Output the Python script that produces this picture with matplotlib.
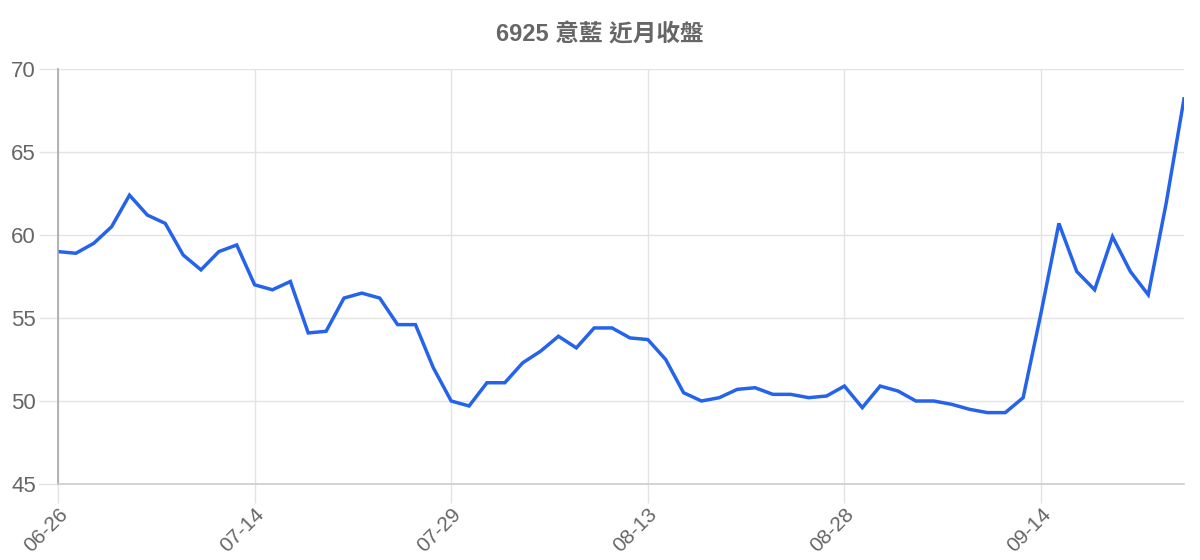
import matplotlib
matplotlib.use('Agg')
import matplotlib.pyplot as plt
import numpy as np

plt.rcParams['font.family'] = ['Liberation Sans', 'Noto Sans CJK TC', 'DejaVu Sans']

title = '6925 意藍 近月收盤'
tick_labels = ['06-26', '07-14', '07-29', '08-13', '08-28', '09-14']
tick_every = 11
closes = [59.0, 58.9, 59.5, 60.5, 62.4, 61.2, 60.7, 58.8, 57.9, 59.0,
          59.4, 57.0, 56.7, 57.2, 54.1, 54.2, 56.2, 56.5, 56.2, 54.6,
          54.6, 52.0, 50.0, 49.7, 51.1, 51.1, 52.3, 53.0, 53.9, 53.2,
          54.4, 54.4, 53.8, 53.7, 52.5, 50.5, 50.0, 50.2, 50.7, 50.8,
          50.4, 50.4, 50.2, 50.3, 50.9, 49.6, 50.9, 50.6, 50.0, 50.0,
          49.8, 49.5, 49.3, 49.3, 50.2, 55.3, 60.7, 57.8, 56.7, 59.9,
          57.8, 56.4, 61.9, 68.2]

fig = plt.figure(figsize=(12, 5.6), dpi=100)
ax = fig.add_axes([58/1200, 1 - 484/560, (1184-58)/1200, (484-69)/560])

x = np.arange(len(closes))
ax.plot(x, closes, color='#2563eb', linewidth=2.5, solid_joinstyle='miter')

ax.set_xlim(0, len(closes) - 1)
ax.set_ylim(45, 70)
ax.set_yticks(np.arange(45, 71, 5))
ax.set_xticks(x[::tick_every])
ax.set_xticklabels(tick_labels, rotation=45, ha='right', va='top',
                   rotation_mode='anchor')

ax.grid(True, color='#e3e3e3', linewidth=1)
ax.set_axisbelow(True)
for s in ['top', 'right']:
    ax.spines[s].set_visible(False)
ax.spines['left'].set_color('#a8a8a8')
ax.spines['left'].set_linewidth(1.2)
ax.spines['bottom'].set_color('#cccccc')
ax.spines['bottom'].set_linewidth(1.2)
ax.tick_params(axis='both', colors='#e3e3e3', length=14, width=1,
               labelcolor='#666666')
ax.tick_params(axis='y', pad=2, labelsize=16)
ax.tick_params(axis='x', pad=1, labelsize=15)

fig.text(0.5, 1 - 35/560, title, ha='center', va='center',
         fontsize=17, fontweight='bold', color='#666666')

fig.savefig('out.png', dpi=100)
